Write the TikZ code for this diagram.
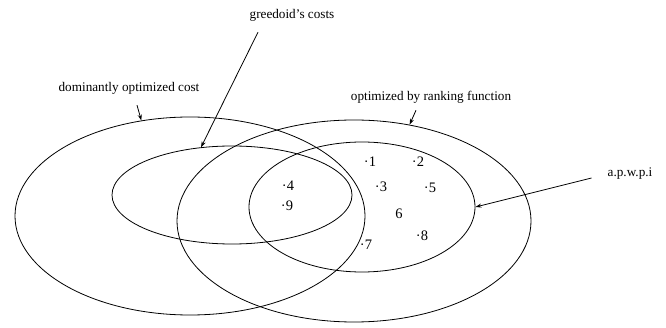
\documentclass[tikz,border=0pt]{standalone}
\usepackage{fontspec}
\setmainfont{Liberation Serif}
\usetikzlibrary{shapes.geometric, arrows.meta, positioning, calc}

\begin{document}
\begin{tikzpicture}[x=1pt, y=-1pt,
      region/.style={draw, ellipse, inner sep=0pt, line width=0.8pt},
      lbl/.style={font=\fontsize{13.2}{15}\selectfont, inner sep=1pt},
      num/.style={font=\fontsize{14.5}{16}\selectfont, inner sep=0pt},
      arr/.style={-{Stealth[length=6pt, width=4pt]}, line width=0.8pt}
    ]
    \useasboundingbox (0,0) rectangle (666,328);

    % the four regions
    \node[region, minimum width=350, minimum height=198] (dom)  at (190,216) {};
    \node[region, minimum width=240, minimum height=98]  (greed) at (232,195) {};
    \node[region, minimum width=354, minimum height=202] (rank) at (354,221) {};
    \node[region, minimum width=226, minimum height=130] (apwpi) at (362,207) {};

    % labels
    \node[lbl] (greedlab) at (292,15)  {greedoid's costs};
    \node[lbl] (domlab)   at (129,88)  {dominantly optimized cost};
    \node[lbl] (ranklab)  at (431,97)  {optimized by ranking function};
    \node[lbl] (apwpilab) at (630,174) {a.p.w.p.i};

    % elements
    \node[num] (n1) at (370,162) {·1};
    \node[num] (n2) at (418,162) {·2};
    \node[num] (n3) at (381,187) {·3};
    \node[num] (n4) at (288,186) {·4};
    \node[num] (n5) at (430,188) {·5};
    \node[num] (n6) at (399,214) {6};
    \node[num] (n7) at (366,245) {·7};
    \node[num] (n8) at (422,236) {·8};
    \node[num] (n9) at (287,206) {·9};

    \draw[arr] ($(greedlab.south)+(-34,10)$) -- (greed.123);
    \draw[arr] ($(domlab.south)+(8,10)$) -- (dom.117);
    \draw[arr] ($(ranklab.south)+(-15,6)$) -- (rank.60);
    \draw[arr] ($(apwpilab.west)+(-15,4)$) -- (apwpi.east);
  \end{tikzpicture}
\end{document}
